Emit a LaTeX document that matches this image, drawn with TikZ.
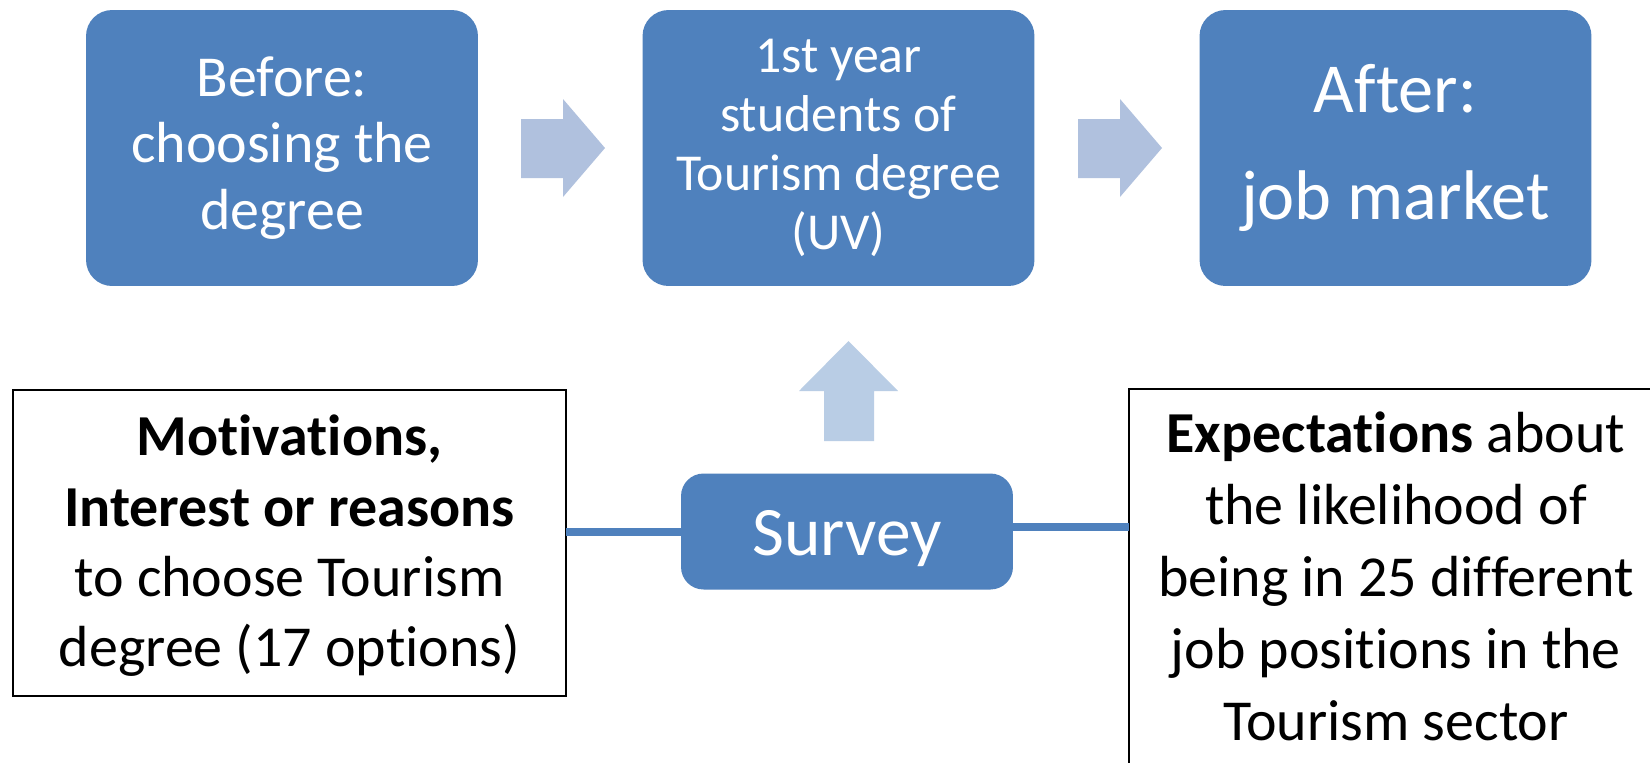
\documentclass[tikz,border=0pt]{standalone}
\usepackage{fontspec}
\setmainfont{Carlito}[RawFeature={-liga}]
\begin{document}
\definecolor{boxblue}{RGB}{79,129,189}
\definecolor{flowarrow}{RGB}{176,193,222}
\definecolor{uparrow}{RGB}{185,205,229}
\begin{tikzpicture}[x=0.02cm, y=-0.02cm,
  stage/.style={fill=boxblue, rounded corners=0.52cm, inner sep=0pt, outer sep=0pt,
    minimum width=7.84cm, minimum height=5.52cm, text=white, align=center},
  frame/.style={draw=black, line width=1.1pt, inner sep=0pt, outer sep=0pt},
  note/.style={align=center, text=black, inner sep=0pt},
  link/.style={draw=boxblue, line width=4pt},
  flow/.style={fill=flowarrow},
  rise/.style={fill=uparrow}]
  \clip (0,0) rectangle (1650,762);
  \fill[white] (0,0) rectangle (1650,762);

  % top row of stages
  \node[stage, font={\fontsize{33}{38}\selectfont}] (before) at (282,148)
    {Before:\\choosing the\\degree};
  \node[stage, font={\fontsize{29.5}{33.5}\selectfont}] (first) at (838.5,148)
    {1st year\\students of\\Tourism degree\\(UV)};
  \node[stage, font={\fontsize{40}{60.7}\selectfont}] (after) at (1395.5,148)
    {After:\\job market};

  % block arrows between the stages
  \fill[flow] (521,119) -- (563,119) -- (563,99) -- (605,148) -- (563,197)
    -- (563,178) -- (521,178) -- cycle;
  \fill[flow] (1078,119) -- (1120,119) -- (1120,99) -- (1162,148) -- (1120,197)
    -- (1120,178) -- (1078,178) -- cycle;

  % survey feeding the first-year stage
  \fill[rise] (824,441) -- (824,391) -- (799,391) -- (848.5,341) -- (898,391)
    -- (874,391) -- (874,441) -- cycle;

  % survey contents
  \node[frame, minimum width=11.06cm, minimum height=6.12cm] (motiv) at (289.5,543) {};
  \node[note, font={\fontsize{33}{40}\selectfont}] (motivtext) at (289.5,546)
    {\textbf{Motivations,}\\\textbf{Interest or reasons}\\to choose Tourism\\degree (17 options)};
  \node[frame, minimum width=10.68cm, minimum height=7.64cm] (expect) at (1396,580) {};
  \node[note, font={\fontsize{33}{41}\selectfont}] (expecttext) at (1396,576)
    {\textbf{Expectations} about\\the likelihood of\\being in 25 different\\job positions in the\\Tourism sector};

  % links to the survey box
  \draw[link] (motiv.east |- 0,532) -- (710,532);
  \draw[link] (985,527) -- (expect.west |- 0,527);

  \node[stage, minimum width=6.64cm, minimum height=2.32cm, rounded corners=0.45cm,
    text height=1.17cm, text depth=0.2cm,
    font={\fontsize{39.5}{47}\selectfont}] (survey) at (847,531.5) {Survey};
\end{tikzpicture}
\end{document}
